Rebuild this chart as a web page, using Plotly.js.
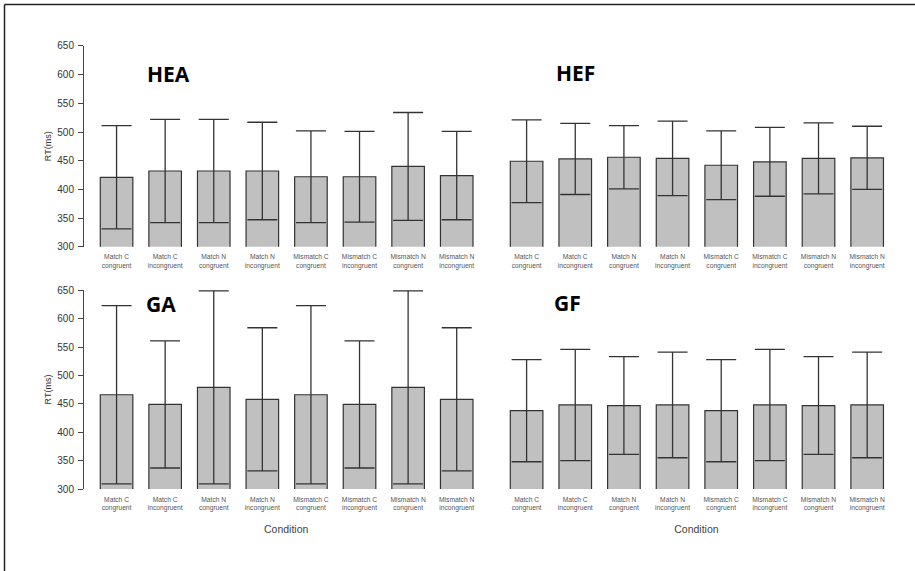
<!DOCTYPE html>
<html>
<head>
<meta charset="utf-8">
<script src="https://cdn.plot.ly/plotly-3.0.1.min.js"></script>
<style>html,body{margin:0;padding:0;background:#fff;}#chart{width:915px;height:571px;}</style>
</head>
<body>
<div id="chart"></div>
<script>
// ---- data ----
var categories = ["Match C<br>congruent", "Match C<br>incongruent", "Match N<br>congruent", "Match N<br>incongruent",
                  "Mismatch C<br>congruent", "Mismatch C<br>incongruent", "Mismatch N<br>congruent", "Mismatch N<br>incongruent"];
var panelNames = ["HEA", "HEF", "GA", "GF"];
var heaMean = [421, 432, 432, 432, 422, 422, 440, 424];
var heaErr  = [90, 90, 90, 85, 80, 79, 94, 77];
var hefMean = [449, 453, 456, 454, 442, 448, 454, 455];
var hefErr  = [72, 62, 55, 65, 60, 60, 62, 55];
var gaMean  = [466, 449, 479, 458, 466, 449, 479, 458];
var gaErr   = [157, 112, 170, 126, 157, 112, 170, 126];
var gfMean  = [438, 448, 447, 448, 438, 448, 447, 448];
var gfErr   = [90, 98, 86, 93, 90, 98, 86, 93];
var yTicks  = [300, 350, 400, 450, 500, 550, 600, 650];
var yTitle = "RT(ms)";
var xTitle = "Condition";

var means = [heaMean, hefMean, gaMean, gfMean];
var errs = [heaErr, hefErr, gaErr, gfErr];
var axSuffix = ["", "2", "3", "4"];

var traces = means.map(function (m, i) {
  return {
    type: "bar",
    x: categories,
    y: m,
    width: 0.67,
    xaxis: "x" + axSuffix[i],
    yaxis: "y" + axSuffix[i],
    marker: { color: "#c0c0c0", line: { color: "#333", width: 1.2 } },
    error_y: { type: "data", array: errs[i], visible: true, color: "#333", thickness: 1.3, width: 15 },
    hoverinfo: "x+y"
  };
});

var W = 915, H = 571;
var xLeft = [84 / W, 488.3 / W];
var xRight = [494 / W, 898.8 / W];
var yTop = [1 - 246.7 / H, 1 - 45.7 / H];
var yBot = [1 - 489 / H, 1 - 290 / H];
var FONT = "Liberation Sans, Arial, sans-serif";

function xax(domain, anchor, withTitle) {
  var a = {
    domain: domain, anchor: anchor, type: "category", range: [-0.67, 7.65],
    showline: false, showgrid: false, zeroline: false, ticks: "",
    ticklabelstandoff: 5,
    tickfont: { family: FONT, size: 6.7, color: "#555" },
    fixedrange: true
  };
  if (withTitle) {
    a.title = { text: xTitle, font: { family: FONT, size: 10.5, color: "#444" }, standoff: 14 };
  }
  return a;
}
function yax(domain, anchor, visible) {
  return {
    domain: domain, anchor: anchor, range: [300, 650.5], visible: visible,
    showline: true, linecolor: "#444", linewidth: 1, ticks: "outside", ticklen: 5, tickcolor: "#444",
    tickvals: yTicks, ticktext: yTicks.map(String),
    ticklabelstandoff: 2,
    tickfont: { family: FONT, size: 10, color: "#333" },
    title: { text: yTitle, font: { family: FONT, size: 9, color: "#333" }, standoff: 4 },
    showgrid: false, zeroline: false, fixedrange: true
  };
}

var labelPos = [[168, 74], [575.8, 72.7], [161.3, 304], [567.8, 303]];
var annotations = panelNames.map(function (n, i) {
  return {
    text: n, xref: "paper", yref: "paper",
    x: labelPos[i][0] / W, y: 1 - labelPos[i][1] / H,
    xanchor: "center", yanchor: "middle", showarrow: false,
    font: { family: "Open Sans, sans-serif", size: 21, color: "#000", weight: 700 }
  };
});

var layout = {
  width: W, height: H,
  margin: { l: 0, r: 0, t: 0, b: 0 },
  paper_bgcolor: "#fff", plot_bgcolor: "#fff",
  showlegend: false,
  xaxis: xax(xLeft, "y", false),
  yaxis: yax(yTop, "x", true),
  xaxis2: xax(xRight, "y2", false),
  yaxis2: yax(yTop, "x2", false),
  xaxis3: xax(xLeft, "y3", true),
  yaxis3: yax(yBot, "x3", true),
  xaxis4: xax(xRight, "y4", true),
  yaxis4: yax(yBot, "x4", false),
  annotations: annotations,
  shapes: [
    { type: "line", xref: "paper", yref: "paper", x0: 4.5 / W, x1: 1, y0: 1 - 4.5 / H, y1: 1 - 4.5 / H, line: { color: "#222", width: 1.5 } },
    { type: "line", xref: "paper", yref: "paper", x0: 4.5 / W, x1: 4.5 / W, y0: 0, y1: 1 - 4.5 / H, line: { color: "#222", width: 1.5 } }
  ]
};

Plotly.newPlot("chart", traces, layout, { displayModeBar: false });
</script>
</body>
</html>
